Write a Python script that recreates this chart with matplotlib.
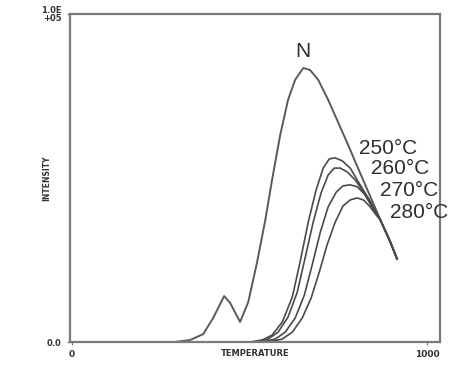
import matplotlib
matplotlib.use("Agg")
import matplotlib.pyplot as plt

# Untreated sample (N): small low-temperature shoulder, then the main peak
n_x = [290, 332, 369, 397, 428, 445, 473, 496, 521, 544, 563, 586, 608, 628,
       651, 670, 693, 721, 746, 777, 811, 839, 868, 896, 915]
n_y = [0.0, 0.006, 0.024, 0.073, 0.140, 0.119, 0.061, 0.122, 0.244, 0.372,
       0.494, 0.631, 0.738, 0.799, 0.835, 0.829, 0.799, 0.738, 0.677, 0.601,
       0.515, 0.445, 0.372, 0.305, 0.253]

# Heat-treated samples
t250_x = [501, 535, 563, 592, 620, 642, 665, 687, 707, 724, 741, 761, 783,
          811, 839, 868, 896, 915]
t250_y = [0.0, 0.006, 0.021, 0.061, 0.137, 0.244, 0.366, 0.463, 0.530, 0.558,
          0.561, 0.552, 0.530, 0.479, 0.430, 0.372, 0.305, 0.253]

t260_x = [515, 552, 580, 608, 634, 656, 679, 701, 721, 738, 755, 775, 797,
          823, 845, 868, 896, 915]
t260_y = [0.0, 0.009, 0.030, 0.076, 0.152, 0.256, 0.366, 0.454, 0.509, 0.530,
          0.530, 0.518, 0.494, 0.454, 0.412, 0.372, 0.305, 0.253]

t270_x = [535, 572, 600, 628, 654, 676, 699, 721, 744, 763, 783, 803, 823,
          845, 868, 896, 915]
t270_y = [0.0, 0.009, 0.030, 0.073, 0.143, 0.235, 0.335, 0.412, 0.457, 0.476,
          0.479, 0.473, 0.451, 0.412, 0.372, 0.305, 0.253]

t280_x = [552, 592, 620, 648, 673, 696, 718, 741, 763, 783, 803, 820, 837,
          854, 868, 896, 915]
t280_y = [0.0, 0.009, 0.030, 0.073, 0.134, 0.213, 0.296, 0.366, 0.415, 0.433,
          0.439, 0.433, 0.415, 0.390, 0.372, 0.305, 0.253]

series_labels = ["250°C", "260°C", "270°C", "280°C"]
x_ticks = [0, 1000]
x_tick_labels = ["0", "1000"]
y_ticks = [0, 1]
y_tick_labels = ["0.0", "1.0E\n+05"]

fig = plt.figure(figsize=(4.68, 3.75), dpi=100)
ax = fig.add_axes([0.1496, 0.088, 0.7906, 0.875])

line_col = "#4a4a4a"
ax.plot(n_x, n_y, color="#5a5a5a", lw=1.4, solid_joinstyle="round")
for xs, ys in [(t250_x, t250_y), (t260_x, t260_y),
               (t270_x, t270_y), (t280_x, t280_y)]:
    ax.plot(xs, ys, color=line_col, lw=1.2, solid_joinstyle="round")

ax.set_xlim(-6, 1036)
ax.set_ylim(0, 1)

for s in ax.spines.values():
    s.set_color("#7a7a7a")
    s.set_linewidth(1.6)

ax.set_xticks(x_ticks)
ax.set_xticklabels(x_tick_labels, fontsize=6.5, fontweight="bold", color="#333")
ax.set_yticks(y_ticks)
ax.set_yticklabels(y_tick_labels, fontsize=6, fontweight="bold", color="#333",
                   linespacing=0.9)
ax.tick_params(length=2, width=0.8, color="#777", pad=4)

ax.set_xlabel("TEMPERATURE", fontsize=6, fontweight="bold", color="#333")
ax.xaxis.set_label_coords(0.5, -0.022)
ax.set_ylabel("INTENSITY", fontsize=5.5, fontweight="bold", color="#333")
ax.yaxis.set_label_coords(-0.05, 0.5)

txt = dict(family="Liberation Sans", fontsize=15, color="#2e2e2e")
ax.text(651, 0.855, "N", ha="center", va="bottom", **txt)
label_pos = [(808, 0.591), (843, 0.530), (866, 0.463), (894, 0.396)]
for (lx, ly), lab in zip(label_pos, series_labels):
    ax.text(lx, ly, lab, ha="left", va="center", **txt)

fig.savefig("out.png", dpi=100)
